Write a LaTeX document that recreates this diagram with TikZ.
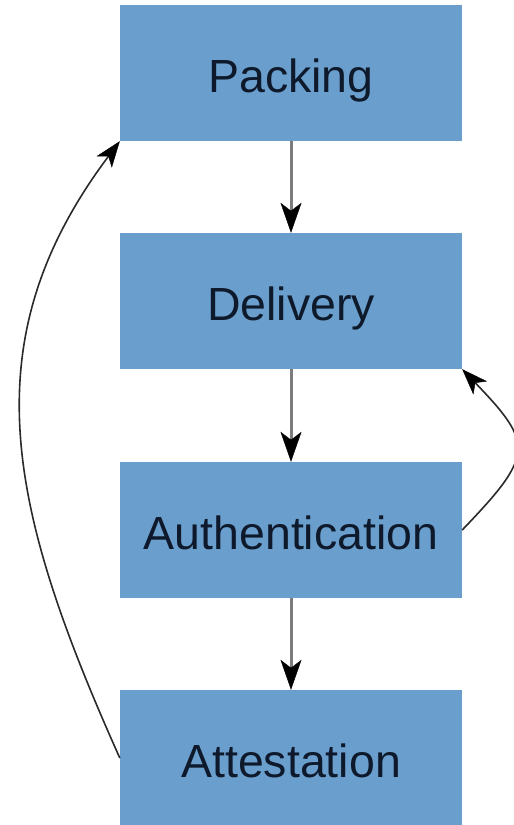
\documentclass[tikz,border=0pt]{standalone}
\usepackage{fontspec}
\setmainfont{Liberation Sans}
\usetikzlibrary{arrows.meta}
\definecolor{boxblue}{HTML}{6A9FCD}
\definecolor{labelink}{HTML}{0E1A2C}
\definecolor{stemgrey}{HTML}{7C7C7C}
\definecolor{loopink}{HTML}{2A2A2A}
\begin{document}
\begin{tikzpicture}[x=1pt,y=1pt,
  stagebox/.style={rectangle, fill=boxblue, draw=none, inner sep=0pt,
    minimum width=342pt, minimum height=136pt, text=labelink,
    text height=39pt, text depth=0pt,
    font=\fontsize{46.5}{50}\selectfont},
  flowarrow/.style={draw=stemgrey, line width=3pt,
    -{Stealth[length=30pt,width=21pt,inset=8pt,color=black,fill=black,line width=0.4pt]}},
  looparrow/.style={draw=loopink, line width=1.6pt,
    -{Stealth[length=26pt,width=19pt,inset=7pt,color=black,fill=black,line width=0.4pt]}}]
  \useasboundingbox (0,0) rectangle (514,825);
  \fill[white] (0,0) rectangle (514,825);

  % the four stages, top to bottom
  \node[stagebox] (pack) at (291,752) {Packing};
  \node[stagebox] (deli) at (291,524) {Delivery};
  \node[stagebox] (auth) at (291,295) {Authentication};
  \node[stagebox] (att)  at (291,67)  {Attestation};

  % forward flow
  \draw[flowarrow] (pack.south) -- (deli.north);
  \draw[flowarrow] (deli.south) -- (auth.north);
  \draw[flowarrow] (auth.south) -- (att.north);

  % feedback loops
  \begin{scope}
    \clip (0,0) rectangle (514,825);
    \draw[looparrow] (att.west) .. controls +(-112,250) and +(-150,-200) .. (pack.south west);
    \draw[looparrow] (auth.east) .. controls +(72,75) and +(72,-75) .. (deli.south east);
  \end{scope}
\end{tikzpicture}
\end{document}
